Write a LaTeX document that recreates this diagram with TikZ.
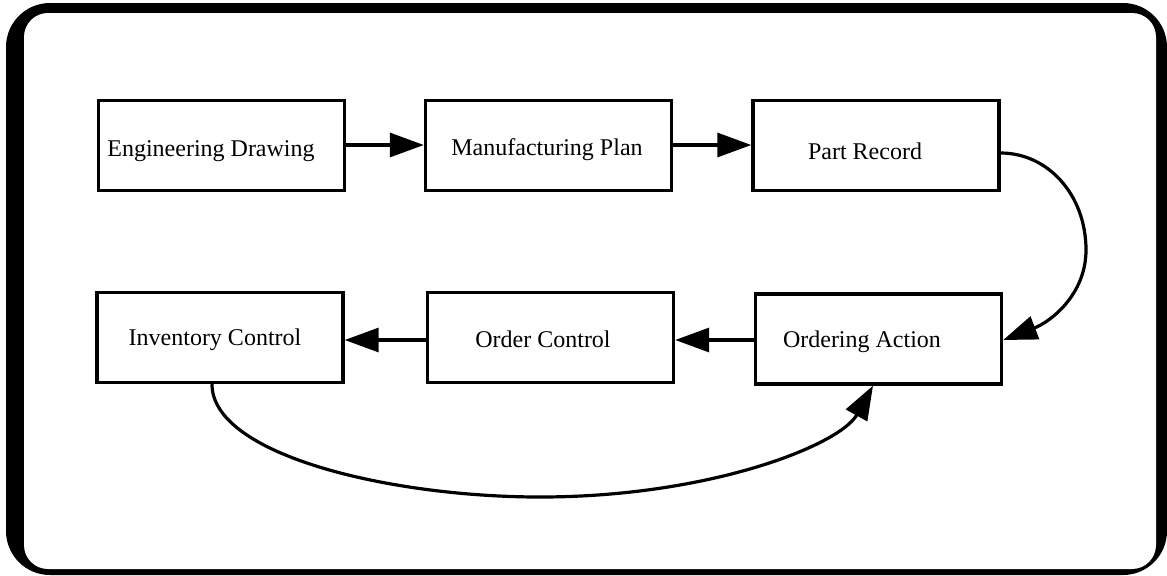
\documentclass[tikz,border=0pt]{standalone}
\usepackage{fontspec}
\setmainfont{Liberation Serif}
\usetikzlibrary{arrows.meta}

\tikzset{
  stepbox/.style={draw=black, line width=1.7pt, minimum width=123pt, minimum height=45pt,
                  inner sep=0pt, fill=white},
  boxtext/.style={font=\fontsize{12}{14}\selectfont, inner sep=0pt},
  flow/.style={line width=1.6pt, -{Triangle[length=17pt,width=12pt]}},
}

\begin{document}
\begin{tikzpicture}[x=0.5pt, y=-0.5pt]
  \useasboundingbox (0,0) rectangle (1167,575);

  % heavy rounded frame
  \fill[black, rounded corners=22] (6,3) rectangle (1167,575);
  \fill[white, rounded corners=12] (24,13) rectangle (1156,569);

  % top row
  \node[stepbox] (ed) at (221.5,145.5) {};
  \node[stepbox] (mp) at (548.5,145.5) {};
  \node[stepbox] (pr) at (876,145.5) {};
  % bottom row
  \node[stepbox] (ic) at (220,337.5) {};
  \node[stepbox] (oc) at (550.5,337.5) {};
  \node[stepbox] (oa) at (878.5,339) {};

  % labels
  \node[boxtext] (edt) at (211,151) {Engineering Drawing};
  \node[boxtext] (mpt) at (547,150) {Manufacturing Plan};
  \node[boxtext] (prt) at (865,151) {Part Record};
  \node[boxtext] (ict) at (215,340) {Inventory Control};
  \node[boxtext] (oct) at (543,339) {Order Control};
  \node[boxtext] (oat) at (862,342) {Ordering Action};

  % connectors
  \draw[flow] (ed.east |- 0,145) -- (mp.west |- 0,145);
  \draw[flow] (mp.east |- 0,145) -- (pr.west |- 0,145);
  \draw[flow] (oa.west |- 0,340) -- (oc.east |- 0,340);
  \draw[flow] (oc.west |- 0,340) -- (ic.east |- 0,340);

  \coordinate (rturn) at (1086,250);
  \draw[flow] (pr.east |- 0,153) .. controls (1048,153) and (1086,195) .. (rturn)
              .. controls (1086,295) and (1050,322) .. (oa.east |- 0,340);

  \coordinate (bturn) at (540,497);
  \draw[flow] (ic.south -| 212,0) .. controls (212,455) and (390,497) .. (bturn)
              .. controls (710,497) and (840,445) .. (oa.south -| 873,0);
\end{tikzpicture}
\end{document}
